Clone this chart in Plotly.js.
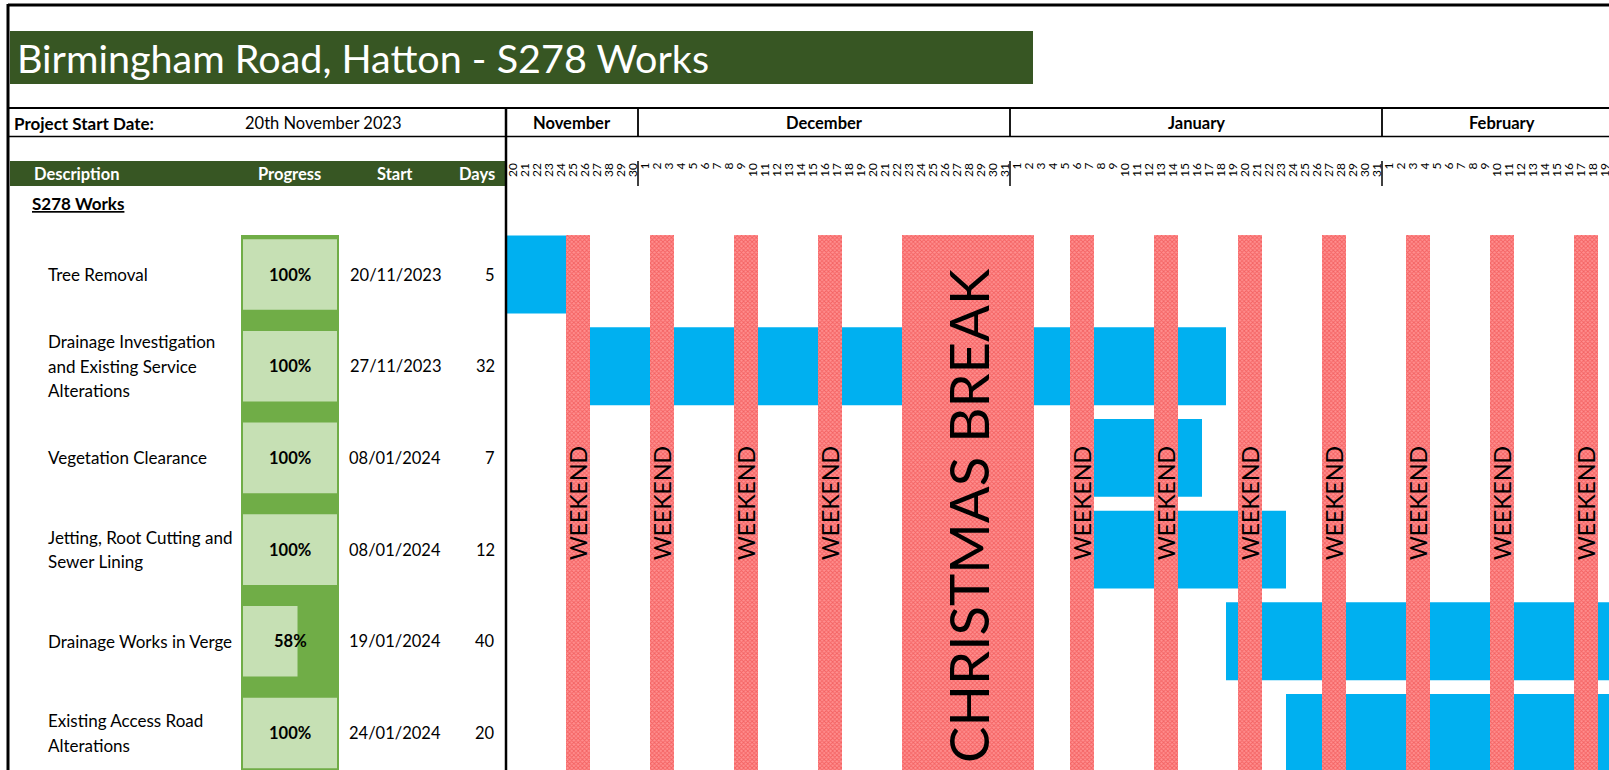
<!DOCTYPE html>
<html><head><meta charset="utf-8">
<script src="https://cdn.plot.ly/plotly-3.0.1.min.js"></script>
<style>html,body{margin:0;padding:0;background:#fff;}#chart{width:1609px;height:770px;}</style>
</head><body><div id="chart"></div>
<script>
// ---------------- DATA ----------------
const projectTitle = 'Birmingham Road, Hatton - S278 Works';
const projectStartLabel = 'Project Start Date:';
const projectStartText = '20th November 2023';
const projectStartDate = '20/11/2023';
const sectionTitle = 'S278 Works';
const columnHeaders = ['Description', 'Progress', 'Start', 'Days'];
const tasks = ['Tree Removal', 'Drainage Investigation\nand Existing Service\nAlterations', 'Vegetation Clearance',
               'Jetting, Root Cutting and\nSewer Lining', 'Drainage Works in Verge', 'Existing Access Road\nAlterations'];
const progress = [100, 100, 100, 100, 58, 100];
const startDates = ['20/11/2023', '27/11/2023', '08/01/2024', '08/01/2024', '19/01/2024', '24/01/2024'];
const durations = [5, 32, 7, 12, 40, 20];
const months = ['November', 'December', 'January', 'February'];
const monthDays = [11, 31, 31, 29];
const dayLabels = ['20','21','22','23','24','25','26','27','38','29','30',
  '1','2','3','4','5','6','7','8','9','10','11','12','13','14','15','16','17','18','19','20','21','22','23','24','25','26','27','28','29','30','31',
  '1','2','3','4','5','6','7','8','9','10','11','12','13','14','15','16','17','18','19','20','21','22','23','24','25','26','27','28','29','30','31',
  '1','2','3','4','5','6','7','8','9','10','11','12','13','14','15','16','17','18','19'];
const breakStarts = ['25/11/2023', '02/12/2023', '09/12/2023', '16/12/2023', '23/12/2023', '06/01/2024', '13/01/2024',
                     '20/01/2024', '27/01/2024', '03/02/2024', '10/02/2024', '17/02/2024'];
const breakLengths = [2, 2, 2, 2, 11, 2, 2, 2, 2, 2, 2, 2];
const breakLabels = ['WEEKEND', 'WEEKEND', 'WEEKEND', 'WEEKEND', 'CHRISTMAS BREAK', 'WEEKEND', 'WEEKEND',
                     'WEEKEND', 'WEEKEND', 'WEEKEND', 'WEEKEND', 'WEEKEND'];

// ---------------- LAYOUT GEOMETRY ----------------
const W = 1609, H = 770;
const FONT = 'Lato, "Open Sans", sans-serif';
const BODY = 17;
const chartLeft = 506, dayPx = 12;
const row0 = 274.5, rowPitch = 91.7;
const px = x => x / W;
const py = y => 1 - y / H;
const yu = y => (y - row0) / rowPitch;
const visDays = (W - chartLeft) / dayPx;

const parse = s => { const [d, m, y] = s.split('/').map(Number); return Date.UTC(y, m - 1, d); };
const t0 = parse(projectStartDate);
const toIdx = s => Math.round((parse(s) - t0) / 864e5);

const off = new Set();
breakStarts.forEach((s, k) => { const i0 = toIdx(s); for (let j = 0; j < breakLengths[k]; j++) off.add(i0 + j); });
function endIdx(i0, n) { let i = i0, c = 0; while (true) { if (!off.has(i)) { c++; if (c === n) return i + 1; } i++; if (i > 400) return i; } }

const rows = tasks.map((_, i) => i);
const starts = startDates.map(toIdx);
const ends = starts.map((s, i) => endIdx(s, durations[i]));

const traces = [
  { type: 'bar', orientation: 'h', y: rows, base: starts, x: ends.map((e, i) => e - starts[i]), width: 0.85,
    marker: { color: '#00B0F0', line: { width: 0 } }, xaxis: 'x', yaxis: 'y', hoverinfo: 'skip' },
  { type: 'bar', orientation: 'v', x: breakStarts.map((s, k) => toIdx(s) + breakLengths[k] / 2),
    y: breakStarts.map(() => 12), base: yu(235), width: breakLengths,
    marker: { color: '#ffffff', line: { width: 0 },
      pattern: { shape: 'x', fgcolor: '#E83232', bgcolor: '#FF9090', size: 3, solidity: 0.5, fillmode: 'overlay' } },
    xaxis: 'x', yaxis: 'y', hoverinfo: 'skip' },
  { type: 'bar', orientation: 'h', y: rows, base: 0, x: progress.map(p => p / 100), width: 0.77,
    marker: { color: '#C6E0B4', line: { width: 0 } }, xaxis: 'x2', yaxis: 'y', hoverinfo: 'skip' }
];

const shapes = [];
const ann = [];
const A = (o) => ann.push(Object.assign({ showarrow: false, font: { family: FONT, size: BODY, color: '#000' } }, o));

// title bar
shapes.push({ type: 'rect', xref: 'paper', yref: 'paper', x0: px(10), x1: px(1033), y0: py(31), y1: py(84), fillcolor: '#375623', line: { width: 0 }, layer: 'below' });
A({ xref: 'paper', yref: 'paper', x: px(15), y: py(57.5), xanchor: 'left', yanchor: 'middle', text: projectTitle, font: { family: FONT, size: 39.5, color: '#fff' } });
// header bar
shapes.push({ type: 'rect', xref: 'paper', yref: 'paper', x0: px(10), x1: px(chartLeft), y0: py(161), y1: py(186), fillcolor: '#375623', line: { width: 0 }, layer: 'below' });
// progress column
shapes.push({ type: 'rect', xref: 'paper', yref: 'paper', x0: px(241), x1: px(339), y0: py(235), y1: 0, fillcolor: '#70AD47', line: { width: 0 }, layer: 'below' });

// lines
const L = (x0, y0, x1, y1, w) => shapes.push({ type: 'line', xref: 'paper', yref: 'paper', x0: px(x0), x1: px(x1), y0: py(y0), y1: py(y1), line: { color: '#000', width: w }, layer: 'above' });
L(8, 5, W, 5, 3);
L(8, 4, 8, H, 3);
L(8, 108, W, 108, 2);
L(8, 136.5, W, 136.5, 1.5);
L(chartLeft, 108, chartLeft, H, 2.5);

// months
let mStart = 0;
months.forEach((m, k) => {
  const mEnd = mStart + monthDays[k];
  if (k > 0) {
    shapes.push({ type: 'line', xref: 'x', yref: 'paper', x0: mStart, x1: mStart, y0: py(108), y1: py(136.5), line: { color: '#000', width: 1.8 } });
    shapes.push({ type: 'line', xref: 'x', yref: 'paper', x0: mStart, x1: mStart, y0: py(161), y1: py(186), line: { color: '#000', width: 1.5 } });
  }
  const clipped = mEnd > visDays;
  A({ xref: 'x', yref: 'paper', x: (mStart + Math.min(mEnd, visDays)) / 2, xshift: clipped ? 6 : 0, y: py(123), xanchor: 'center', yanchor: 'middle', text: '<b>' + m + '</b>', font: { family: FONT, size: 16.5, color: '#000' } });
  mStart = mEnd;
});

// day labels
dayLabels.forEach((d, i) => A({ xref: 'x', yref: 'paper', x: i + 0.5, y: py(161), xanchor: 'center', yanchor: 'top', textangle: -90, text: d, font: { family: FONT, size: 12, color: '#000' } }));

// project start row
A({ xref: 'paper', yref: 'paper', x: px(12), y: py(123), xanchor: 'left', yanchor: 'middle', text: '<b>' + projectStartLabel + '</b>' });
A({ xref: 'paper', yref: 'paper', x: px(323), y: py(123), xanchor: 'center', yanchor: 'middle', text: projectStartText, font: { family: FONT, size: 16.5, color: '#000' } });

// column headers
const hdrX = [32, 289, 395, 497], hdrAnchor = ['left', 'center', 'center', 'right'];
columnHeaders.forEach((h, k) => A({ xref: 'paper', yref: 'paper', x: px(hdrX[k]), y: py(173.5), xanchor: hdrAnchor[k], yanchor: 'middle', text: '<b>' + h + '</b>', font: { family: FONT, size: 16.5, color: '#fff' } }));
A({ xref: 'paper', yref: 'paper', x: px(30), y: py(203), xanchor: 'left', yanchor: 'middle', text: '<b><u>' + sectionTitle + '</u></b>' });

// task rows
const lineGap = 24.6 / rowPitch;
tasks.forEach((t, i) => {
  const lines = t.split('\n');
  lines.forEach((ln, j) => A({ xref: 'paper', yref: 'y', x: px(46), y: i + (j - (lines.length - 1) / 2) * lineGap, xanchor: 'left', yanchor: 'middle', text: ln }));
  A({ xref: 'paper', yref: 'y', x: px(290), y: i, xanchor: 'center', yanchor: 'middle', text: '<b>' + progress[i] + '%</b>', font: { family: FONT, size: 16.5, color: '#000' } });
  A({ xref: 'paper', yref: 'y', x: px(395), y: i, xanchor: 'center', yanchor: 'middle', text: startDates[i], font: { family: FONT, size: 16.5, color: '#000' } });
  A({ xref: 'paper', yref: 'y', x: px(497), y: i, xanchor: 'right', yanchor: 'middle', text: String(durations[i]), font: { family: FONT, size: 16.5, color: '#000' } });
});

// break labels
breakStarts.forEach((s, k) => {
  const big = breakLengths[k] > 2;
  A({ xref: 'x', yref: 'y', x: toIdx(s) + breakLengths[k] / 2, y: yu(big ? 516 : 503), xanchor: 'center', yanchor: 'middle', textangle: -90,
      text: breakLabels[k], font: { family: FONT, size: big ? 54.5 : 23, color: '#000' } });
});

const layout = {
  width: W, height: H, margin: { l: 0, r: 0, t: 0, b: 0 }, paper_bgcolor: '#fff', plot_bgcolor: 'rgba(0,0,0,0)',
  showlegend: false, barmode: 'overlay', hovermode: false,
  xaxis: { domain: [px(chartLeft), 1], range: [0, visDays], visible: false, fixedrange: true },
  xaxis2: { domain: [px(243), px(337)], range: [0, 1], visible: false, anchor: 'y', fixedrange: true },
  yaxis: { domain: [0, 1], range: [yu(H), yu(0)], visible: false, fixedrange: true },
  shapes: shapes, annotations: ann
};
Plotly.newPlot('chart', traces, layout, { staticPlot: true, displayModeBar: false });
</script></body></html>
